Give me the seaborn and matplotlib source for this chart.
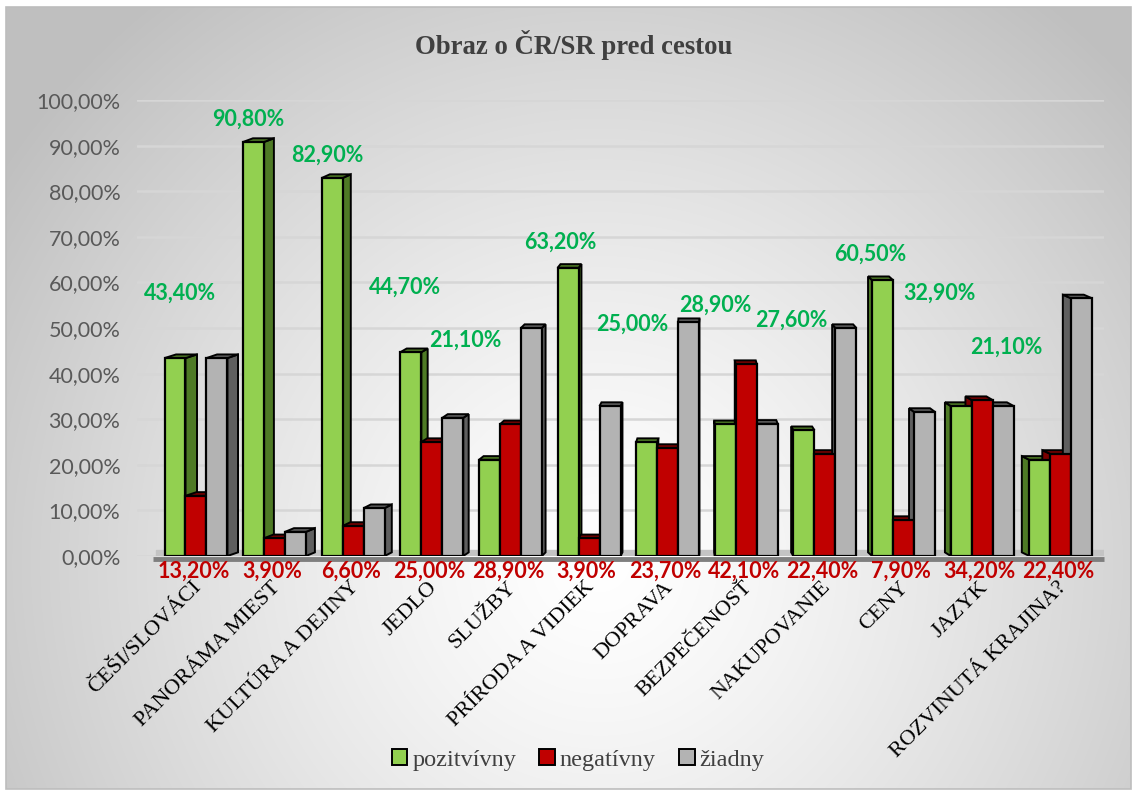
import numpy as np
import pandas as pd
import matplotlib
matplotlib.use("Agg")
import matplotlib.pyplot as plt
import seaborn as sns
from matplotlib.patches import Polygon, Rectangle, Patch
from matplotlib.ticker import FuncFormatter, MultipleLocator

# ---- data -------------------------------------------------------------
categories = [
    "ČEŠI/SLOVÁCI", "PANORÁMA MIEST", "KULTÚRA A DEJINY", "JEDLO", "SLUŽBY",
    "PRÍRODA A VIDIEK", "DOPRAVA", "BEZPEČENOSŤ", "NAKUPOVANIE", "CENY",
    "JAZYK", "ROZVINUTÁ KRAJINA?",
]
series_names = ["pozitvívny", "negatívny", "žiadny"]
pozitivny = [43.4, 90.8, 82.9, 44.7, 21.1, 63.2, 25.0, 28.9, 27.6, 60.5, 32.9, 21.1]
negativny = [13.2, 3.9, 6.6, 25.0, 28.9, 3.9, 23.7, 42.1, 22.4, 7.9, 34.2, 22.4]
ziadny = [43.4, 5.3, 10.5, 30.3, 50.0, 32.9, 51.3, 29.0, 50.0, 31.6, 32.9, 56.5]

# where the green value labels sit (axis units: category offset, height in %)
pos_label_dx = [-0.20, -0.33, -0.33, -0.34, -0.57, -0.36, -0.45, -0.39, -0.43, -0.42, -0.54, -0.69]
pos_label_y = [57.7, 95.8, 87.9, 59.0, 47.4, 68.9, 50.9, 55.0, 51.8, 66.2, 57.7, 45.8]

# ---- styles -----------------------------------------------------------
W, H, DPI = 1137, 794, 100
front_colors = {"pozitvívny": "#92d050", "negatívny": "#c00000", "žiadny": "#b3b3b3"}
side_colors = {"pozitvívny": "#4e7a25", "negatívny": "#7a0000", "žiadny": "#5f5f5f"}
SERIF = "Liberation Serif"
SANS = "Lato"

sns.set_theme(style="white")
plt.rcParams["font.family"] = [SANS, "DejaVu Sans"]

df = pd.DataFrame({
    "kategória": categories * 3,
    "séria": np.repeat(series_names, len(categories)),
    "hodnota": pozitivny + negativny + ziadny,
})

fig = plt.figure(figsize=(W / DPI, H / DPI), dpi=DPI)
fig.patch.set_facecolor("white")

# soft radial background inside a thin frame
bg = fig.add_axes([6 / W, 5 / H, 1125 / W, 782 / H], zorder=-10)
yy, xx = np.mgrid[0:782, 0:1125]
r = np.hypot(xx - 594, yy - 555) / 720
shade = 1 - 0.25 * np.clip(r, 0, 1) ** 1.3
bg.imshow(np.dstack([shade] * 3), aspect="auto", interpolation="bilinear")
bg.set_axis_off()
fig.add_artist(Rectangle((6 / W, 5 / H), 1125 / W, 782 / H, transform=fig.transFigure,
                         fill=False, edgecolor="#bdbdbd", linewidth=1.2))

ax = fig.add_axes([137 / W, 1 - 556 / H, (1104 - 137) / W, 456 / H])
ax.patch.set_alpha(0)

sns.barplot(data=df, x="kategória", y="hodnota", hue="séria", order=categories,
            hue_order=series_names, palette=front_colors, saturation=1,
            width=0.8, edgecolor="black", linewidth=1.6, errorbar=None,
            legend=False, ax=ax, zorder=3)

ax.set_xlim(-0.75, 11.55)
ax.set_ylim(0, 100)

# floor of the plot
ax.axhspan(0, 1.3, xmin=0.02, color="#c4c4c4", zorder=1)
ax.plot([-0.55, 11.55], [-0.6, -0.6], color="#7f7f7f", lw=3.5, clip_on=False,
        zorder=2, solid_capstyle="butt")

# depth faces for each bar, taken from the drawn rectangles
for container, name in zip(ax.containers, series_names):
    for p in container.patches:
        x0, w, h = p.get_x(), p.get_width(), p.get_height()
        xc = x0 + w / 2
        dx = 0.022 * (6.4 - xc)
        dy = 0.8
        if dx >= 0:
            side = [(x0 + w, 0), (x0 + w, h), (x0 + w + dx, h + dy), (x0 + w + dx, dy)]
        else:
            side = [(x0, 0), (x0, h), (x0 + dx, h + dy), (x0 + dx, dy)]
        top = [(x0, h), (x0 + w, h), (x0 + w + dx, h + dy), (x0 + dx, h + dy)]
        for poly in (side, top):
            ax.add_patch(Polygon(poly, closed=True, facecolor=side_colors[name],
                                 edgecolor="black", linewidth=1.4, zorder=2.6))

# grid and axes
ax.yaxis.set_major_locator(MultipleLocator(10))
ax.yaxis.set_major_formatter(FuncFormatter(lambda v, _: f"{v:.2f}%".replace(".", ",")))
ax.grid(axis="y", color="#d6d6d6", linewidth=1.8, zorder=0)
ax.set_axisbelow(True)
for s in ax.spines.values():
    s.set_visible(False)
ax.tick_params(axis="y", length=0, pad=12, labelsize=15.5, labelcolor="#595959")
ax.tick_params(axis="x", length=0)
ax.set_xticks(range(len(categories)))
ax.set_xticklabels([])
ax.set_xlabel("")
ax.set_ylabel("")

for i, cat in enumerate(categories):
    ax.text(i - 0.05, -4.8, cat, rotation=45, rotation_mode="anchor", ha="right",
            va="top", fontsize=16, family=SERIF, color="black")

# value labels
for i, (vp, vn) in enumerate(zip(pozitivny, negativny)):
    ax.text(i + pos_label_dx[i], pos_label_y[i], f"{vp:.2f}%".replace(".", ","),
            ha="center", va="center", fontsize=15.5, fontweight="bold",
            color="#00b050", zorder=5)
    ax.text(i - 0.03, -3.3, f"{vn:.2f}%".replace(".", ","), ha="center", va="center",
            fontsize=15.5, fontweight="bold", color="#c00000", zorder=5, clip_on=False)

fig.text(574 / W, 1 - 45 / H, "Obraz o ČR/SR pred cestou", ha="center", va="center",
         fontsize=19.3, fontweight="bold", family=SERIF, color="#404040")

handles = [Patch(facecolor=front_colors[n], edgecolor="black", linewidth=1.4)
           for n in series_names]
fig.legend(handles, series_names, loc="center", bbox_to_anchor=(578 / W, 1 - 760 / H),
           ncol=3, frameon=False, handlelength=0.65, handleheight=0.65,
           handletextpad=0.2, columnspacing=0.95,
           prop={"family": SERIF, "size": 17.5}, labelcolor="#404040")

fig.savefig("out.png", dpi=DPI)
